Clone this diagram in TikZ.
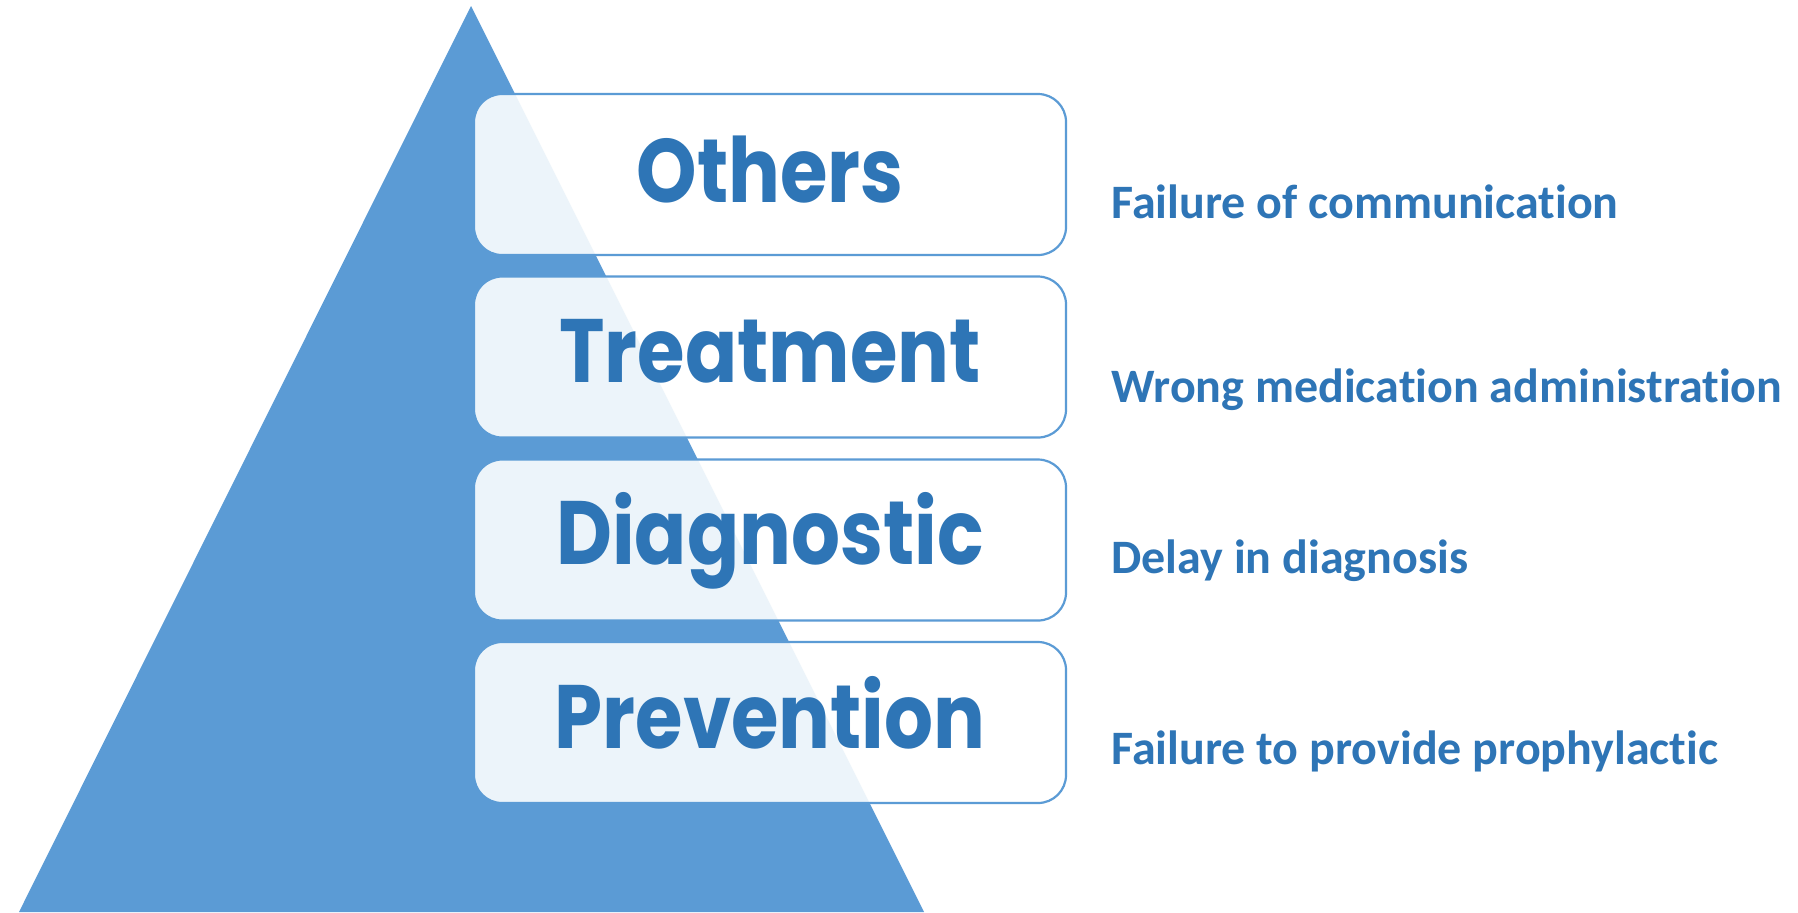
\documentclass[tikz,border=0pt]{standalone}
\usepackage{fontspec}
\newfontfamily\titlefont{Poppins}[FakeStretch=0.855]
\newfontfamily\notefont{Carlito}[Ligatures=NoCommon]
\definecolor{triblue}{HTML}{5B9BD5}
\definecolor{txtblue}{HTML}{2E75B6}
\begin{document}
\begin{tikzpicture}[x=0.5pt,y=-0.5pt,
  levelbox/.style={draw=triblue, line width=1.1pt, fill=white, fill opacity=0.89,
    rounded corners=14pt, minimum width=296pt, minimum height=80.5pt, inner sep=0pt},
  levellabel/.style={anchor=base, text=txtblue, font=\titlefont\bfseries\fontsize{45}{50}\selectfont, inner sep=0pt},
  notelabel/.style={anchor=base west, text=txtblue, font=\notefont\bfseries\fontsize{24}{28}\selectfont, inner sep=0pt}]
\useasboundingbox (0,0) rectangle (1798,912);
\fill[white] (0,0) rectangle (1798,912);
% pyramid
\fill[triblue] (19,912) -- (471,6) -- (924,912) -- cycle;
% boxes
\node[levelbox] (b1) at (770,174.5) {};
\node[levelbox] (b2) at (770,357) {};
\node[levelbox] (b3) at (770,540) {};
\node[levelbox] (b4) at (770,722.5) {};
% labels in boxes
\node[levellabel] (l1) at (770,202) {Others};
\node[levellabel] (l2) at (770,382) {Treatment};
\node[levellabel] (l3) at (770,564) {Diagnostic};
\node[levellabel] (l4) at (770,748) {Prevention};
% notes
\node[notelabel] (n1) at (1111,218) {Failure of communication};
\node[notelabel] (n2) at (1111,402) {Wrong medication administration};
\node[notelabel] (n3) at (1111,573) {Delay in diagnosis};
\node[notelabel] (n4) at (1111,764) {Failure to provide prophylactic};
\end{tikzpicture}
\end{document}
